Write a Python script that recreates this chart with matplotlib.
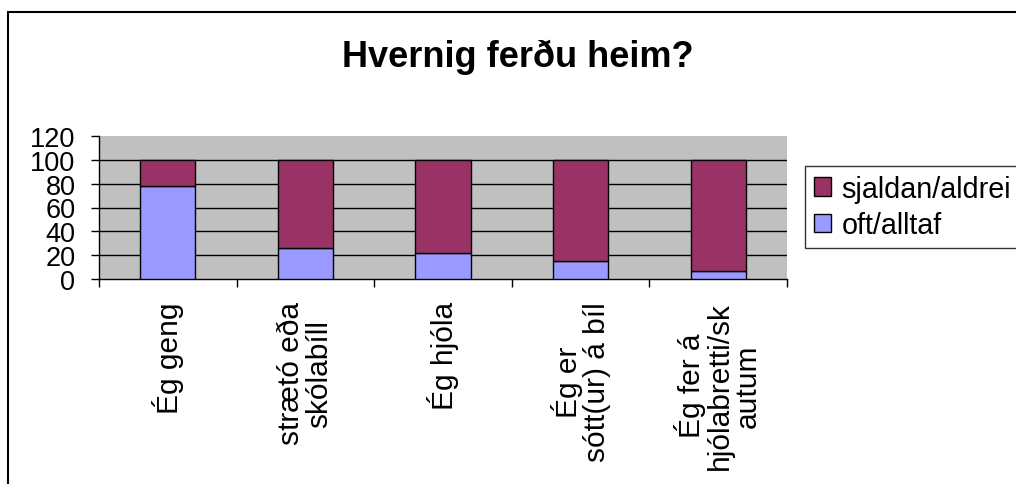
import matplotlib
matplotlib.use("Agg")
import matplotlib.pyplot as plt
from matplotlib.patches import Rectangle

categories = ["Ég geng", "strætó eða\nskólabíll", "Ég hjóla", "Ég er\nsótt(ur) á bíl", "Ég fer á\nhjólabretti/sk\nautum"]
oft_alltaf = [78, 26, 22, 15, 7]
sjaldan_aldrei = [22, 74, 78, 85, 93]
series_names = ["oft/alltaf", "sjaldan/aldrei"]
yticks = [0, 20, 40, 60, 80, 100, 120]

plt.rcParams['font.family'] = ['Liberation Sans', 'DejaVu Sans']

W, H = 1016, 485
fig = plt.figure(figsize=(W / 100, H / 100), dpi=100)
fig.patch.set_facecolor("white")

# outer chart border (extends beyond right/bottom edge)
fig.add_artist(Rectangle((8 / W, -0.1), 1.2, 1 - 13 / H + 0.1, transform=fig.transFigure,
                         fill=False, edgecolor="black", linewidth=1.5))

ax = fig.add_axes([99 / W, 1 - 280 / H, (787 - 99) / W, (280 - 137) / H])
ax.set_facecolor("#C0C0C0")

x = list(range(len(categories)))
b1 = ax.bar(x, oft_alltaf, width=0.4, color="#9999FF", edgecolor="black", linewidth=1, zorder=3,
            label=series_names[0])
b2 = ax.bar(x, sjaldan_aldrei, width=0.4, bottom=oft_alltaf, color="#993366", edgecolor="black",
            linewidth=1, zorder=3, label=series_names[1])

for y in yticks[1:-1]:
    ax.axhline(y, color="black", linewidth=1, zorder=1)

ax.set_xlim(-0.5, len(categories) - 0.5)
ax.set_ylim(0, 120)
ax.set_yticks(yticks)
ax.set_yticklabels([str(v) for v in yticks], fontsize=19.5)
ax.tick_params(axis="y", direction="out", length=6, width=1, pad=11)

ax.set_xticks([i - 0.5 for i in range(len(categories) + 1)])
ax.set_xticklabels([])
ax.tick_params(axis="x", direction="out", length=6, width=1)
ax.set_xticks(x, minor=True)
ax.set_xticklabels(categories, minor=True, rotation=90, fontsize=21.5, va="top", ha="center",
                   multialignment="center", linespacing=1.0)
ax.tick_params(axis="x", which="minor", length=0, pad=16)

for s in ["top", "right"]:
    ax.spines[s].set_visible(False)
for s in ["left", "bottom"]:
    ax.spines[s].set_color("black")
    ax.spines[s].set_linewidth(1)

fig.text(518 / W, 1 - 57 / H, "Hvernig ferðu heim?", fontsize=26, fontweight="bold",
         ha="center", va="center")

leg = fig.legend(handles=[b2, b1], labels=[series_names[1], series_names[0]],
                 loc="upper left", bbox_to_anchor=(805 / W, 1 - 167 / H),
                 fontsize=20.7, frameon=True, fancybox=False, edgecolor="black",
                 handlelength=0.62, handleheight=0.62, handletextpad=0.35,
                 labelspacing=0.3, borderpad=0.3, borderaxespad=0)
leg.get_frame().set_linewidth(1)

fig.savefig("out.png", dpi=100)
